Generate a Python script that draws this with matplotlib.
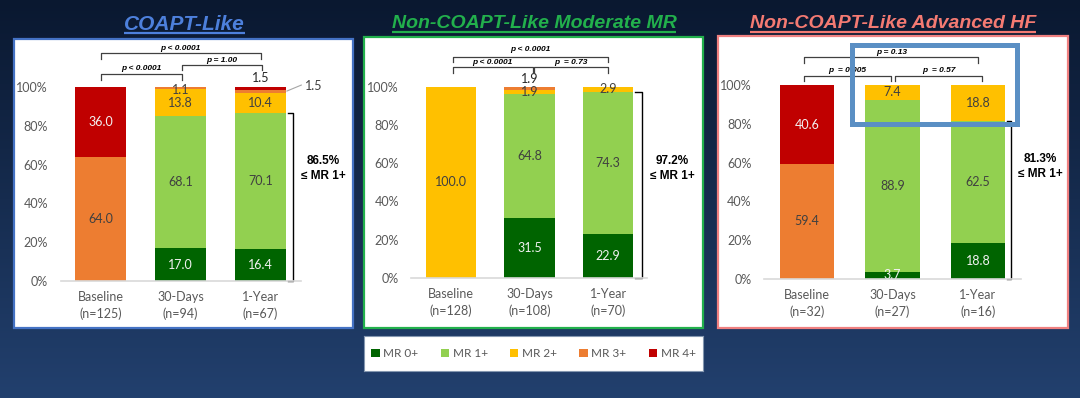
import matplotlib
matplotlib.use('Agg')
import matplotlib.pyplot as plt
import numpy as np
from matplotlib.patches import Rectangle, Patch

W, H = 1080, 398

# ---------------- data ----------------
timepoints = ["Baseline", "30-Days", "1-Year"]
series_names = ["MR 0+", "MR 1+", "MR 2+", "MR 3+", "MR 4+"]
colors = ["#006400", "#92d050", "#ffc000", "#ed7d31", "#c00000"]

coapt_n = [125, 94, 67]
coapt_mr0 = [0.0, 17.0, 16.4]
coapt_mr1 = [0.0, 68.1, 70.1]
coapt_mr2 = [0.0, 13.8, 10.4]
coapt_mr3 = [64.0, 1.1, 1.5]
coapt_mr4 = [36.0, 0.0, 1.5]
coapt_p = ["p < 0.0001", "p < 0.0001", "p = 1.00"]
coapt_summary = "86.5%"

mod_n = [128, 108, 70]
mod_mr0 = [0.0, 31.5, 22.9]
mod_mr1 = [0.0, 64.8, 74.3]
mod_mr2 = [100.0, 1.9, 2.9]
mod_mr3 = [0.0, 1.9, 0.0]
mod_mr4 = [0.0, 0.0, 0.0]
mod_p = ["p < 0.0001", "p < 0.0001", "p  = 0.73"]
mod_summary = "97.2%"

hf_n = [32, 27, 16]
hf_mr0 = [0.0, 3.7, 18.8]
hf_mr1 = [0.0, 88.9, 62.5]
hf_mr2 = [0.0, 7.4, 18.8]
hf_mr3 = [59.4, 0.0, 0.0]
hf_mr4 = [40.6, 0.0, 0.0]
hf_p = ["p = 0.13", "p  = 0.005", "p  = 0.57"]
hf_summary = "81.3%"

titles = ["COAPT-Like", "Non-COAPT-Like Moderate MR", "Non-COAPT-Like Advanced HF"]
title_colors = ["#4d80dc", "#22b04c", "#f47a72"]

# ---------------- helpers ----------------
def frac_rect(x0, ytop, x1, ybot):
    return [x0 / W, 1 - ybot / H, (x1 - x0) / W, (ybot - ytop) / H]

LAB = "Lato"
ARI = "Liberation Sans"
GRAY = "#595959"
DARK = "#404040"

fig = plt.figure(figsize=(W / 100, H / 100), dpi=100)

# background gradient + panels
bg = fig.add_axes([0, 0, 1, 1])
bg.set_xlim(0, W)
bg.set_ylim(H, 0)
bg.axis('off')
top = np.array([0x0a, 0x18, 0x30]) / 255
bot = np.array([0x22, 0x40, 0x6e]) / 255
t = np.linspace(0, 1, 200)[:, None, None]
grad = top * (1 - t) + bot * t
bg.imshow(grad, extent=[0, W, H, 0], aspect='auto', zorder=0)

panel_boxes = [(14, 39, 353, 328, "#4472c4"),
               (364, 37, 703, 328, "#22b04c"),
               (718, 36, 1068, 328, "#f08080")]
for (x0, y0, x1, y1, ec) in panel_boxes:
    bg.add_patch(Rectangle((x0, y0), x1 - x0, y1 - y0, facecolor='white',
                           edgecolor=ec, lw=1.6, zorder=1))

# titles with underline
title_pos = [(184.5, 30.0, 32.5, 15), (534, 27.5, 31.8, 14), (893, 27.5, 31.8, 14)]
for ttl, col, (cx, base, uy, fs) in zip(titles, title_colors, title_pos):
    txt = bg.text(cx, base, ttl, ha='center', va='baseline', fontsize=fs,
                  fontweight='bold', fontstyle='italic', family=ARI, color=col, zorder=2)
fig.canvas.draw()
rend = fig.canvas.get_renderer()
for txt, (cx, base, uy, fs) in zip(bg.texts, title_pos):
    bb = txt.get_window_extent(rend)
    bg.plot([bb.x0, bb.x1], [uy, uy], color=txt.get_color(), lw=1.6, zorder=2,
            solid_capstyle='butt')

panels = [
    dict(rect=frac_rect(60.5, 87, 300.5, 281), n=coapt_n,
         series=[coapt_mr0, coapt_mr1, coapt_mr2, coapt_mr3, coapt_mr4],
         p=coapt_p, summary=coapt_summary,
         br=[(0.0, 2.0, 117.5, 114.4, 120.1),
             (0.0, 1.02, 106.7, 103.6, 109.3),
             (1.02, 2.02, 111.3, 108.8, 113.9)],
         sb=(2.34, 2.41, 2.78, 58.2),
         special={(2, 3): ('right',), (2, 4): ('above', 104.6), (1, 3): ('at', 98.6)}),
    dict(rect=frac_rect(411.4, 86.5, 647.4, 278), n=mod_n,
         series=[mod_mr0, mod_mr1, mod_mr2, mod_mr3, mod_mr4],
         p=mod_p, summary=mod_summary,
         br=[(0.025, 2.0, 115.6, 113.0, 119.1),
             (0.025, 1.04, 110.3, 107.2, 112.6),
             (1.06, 2.0, 110.3, 107.2, 112.6)],
         sb=(2.34, 2.43, 2.82, 57.4),
         special={(1, 3): ('above', 103.9)}),
    dict(rect=frac_rect(764.25, 85.25, 1020.75, 279), n=hf_n,
         series=[hf_mr0, hf_mr1, hf_mr2, hf_mr3, hf_mr4],
         p=hf_p, summary=hf_summary,
         br=[(-0.03, 2.0, 114.4, 111.6, 116.8),
             (-0.03, 0.98, 104.8, 102.2, 107.4),
             (1.03, 2.05, 104.8, 102.2, 107.4)],
         sb=(2.336, 2.386, 2.725, 58.0),
         special={}),
]

x = np.arange(len(timepoints))
for pn in panels:
    ax = fig.add_axes(pn['rect'])
    ax.set_xlim(-0.5, 2.5)
    ax.set_ylim(0, 100)
    ax.set_facecolor('none')
    bottom = np.zeros(len(x))
    for si, (vals, col) in enumerate(zip(pn['series'], colors)):
        vals = np.array(vals)
        ax.bar(x, vals, 0.64, bottom=bottom, color=col, linewidth=0, zorder=2)
        for xi in range(len(x)):
            v = vals[xi]
            if v <= 0:
                continue
            tc = '#f2f2f2' if si in (0, 4) else DARK
            yc = bottom[xi] + v / 2
            sp = pn['special'].get((xi, si))
            if sp is None:
                ax.text(x[xi], yc, f"{v:.1f}", ha='center', va='center', fontsize=9,
                        family=LAB, color=tc, zorder=3)
            elif sp[0] == 'at':
                ax.text(x[xi], sp[1], f"{v:.1f}", ha='center', va='center', fontsize=9,
                        family=LAB, color=tc, zorder=3)
            elif sp[0] == 'above':
                ax.text(x[xi], sp[1], f"{v:.1f}", ha='center', va='center', fontsize=9,
                        family=LAB, color='#262626', zorder=3, clip_on=False)
            elif sp[0] == 'right':
                ax.plot([x[xi] + 0.33, x[xi] + 0.51], [bottom[xi] + v - 0.5, 101.0],
                        color='#a6a6a6', lw=0.8, clip_on=False, zorder=3)
                ax.text(x[xi] + 0.55, 100.7, f"{v:.1f}", ha='left', va='center',
                        fontsize=9, family=LAB, color=DARK, clip_on=False, zorder=3)
        bottom = bottom + vals

    for s in ['left', 'right', 'top']:
        ax.spines[s].set_visible(False)
    ax.spines['bottom'].set_color('#d9d9d9')
    ax.spines['bottom'].set_linewidth(1.2)
    ax.spines['bottom'].set_zorder(4)
    ax.set_yticks(np.arange(0, 101, 20))
    ax.set_yticklabels([f"{v}%" for v in range(0, 101, 20)], family=LAB, fontsize=9,
                       color=GRAY)
    ax.set_xticks(x)
    ax.set_xticklabels([f"{tp}\n(n={n})" for tp, n in zip(timepoints, pn['n'])],
                       family=LAB, fontsize=9, color=GRAY, linespacing=1.45)
    ax.tick_params(axis='y', length=0, pad=9)
    ax.tick_params(axis='x', length=0, pad=7)

    # significance brackets
    for (xa, xb, yt, yb, ylab), ptxt in zip(pn['br'], pn['p']):
        ax.plot([xa, xa, xb, xb], [yb, yt, yt, yb], color=DARK, lw=0.9,
                clip_on=False, zorder=3)
        ax.text((xa + xb) / 2, ylab, ptxt, ha='center', va='center', fontsize=6,
                family=ARI, fontweight='bold', fontstyle='italic', color='black',
                clip_on=False)

    # summary bracket
    xs, xv, xt, yt = pn['sb']
    top_val = float(pn['summary'].rstrip('%'))
    ax.plot([xs, xv, xv, xs], [top_val, top_val, 0.0, 0.0], color='black', lw=1.0,
            clip_on=False, zorder=3)
    ax.text(xt, yt, pn['summary'] + "\n≤ MR 1+", ha='center', va='center', fontsize=8.5,
            family=[ARI, 'DejaVu Sans'], fontweight='bold', color='black',
            linespacing=1.35, clip_on=False)

# highlight box (figure-level, above bars)
hl = Rectangle((852 / W, 1 - 124 / H), (1017 - 852) / W, (124 - 45) / H,
               transform=fig.transFigure, fill=False, edgecolor='#5a8fc4', lw=3.6,
               zorder=10)
fig.add_artist(hl)

# legend
lax = fig.add_axes(frac_rect(364, 336, 703, 371))
lax.set_xticks([])
lax.set_yticks([])
lax.set_facecolor('white')
for s in lax.spines.values():
    s.set_color('#8497b0')
    s.set_linewidth(0.8)
handles = [Patch(facecolor=c, edgecolor='none') for c in colors]
leg = lax.legend(handles, series_names, loc='center', ncol=5, frameon=False,
                 handlelength=0.7, handleheight=0.7, handletextpad=0.3,
                 columnspacing=1.9, prop={'family': LAB, 'size': 8.5})
for tx in leg.get_texts():
    tx.set_color(GRAY)

fig.savefig('out.png', dpi=100)
